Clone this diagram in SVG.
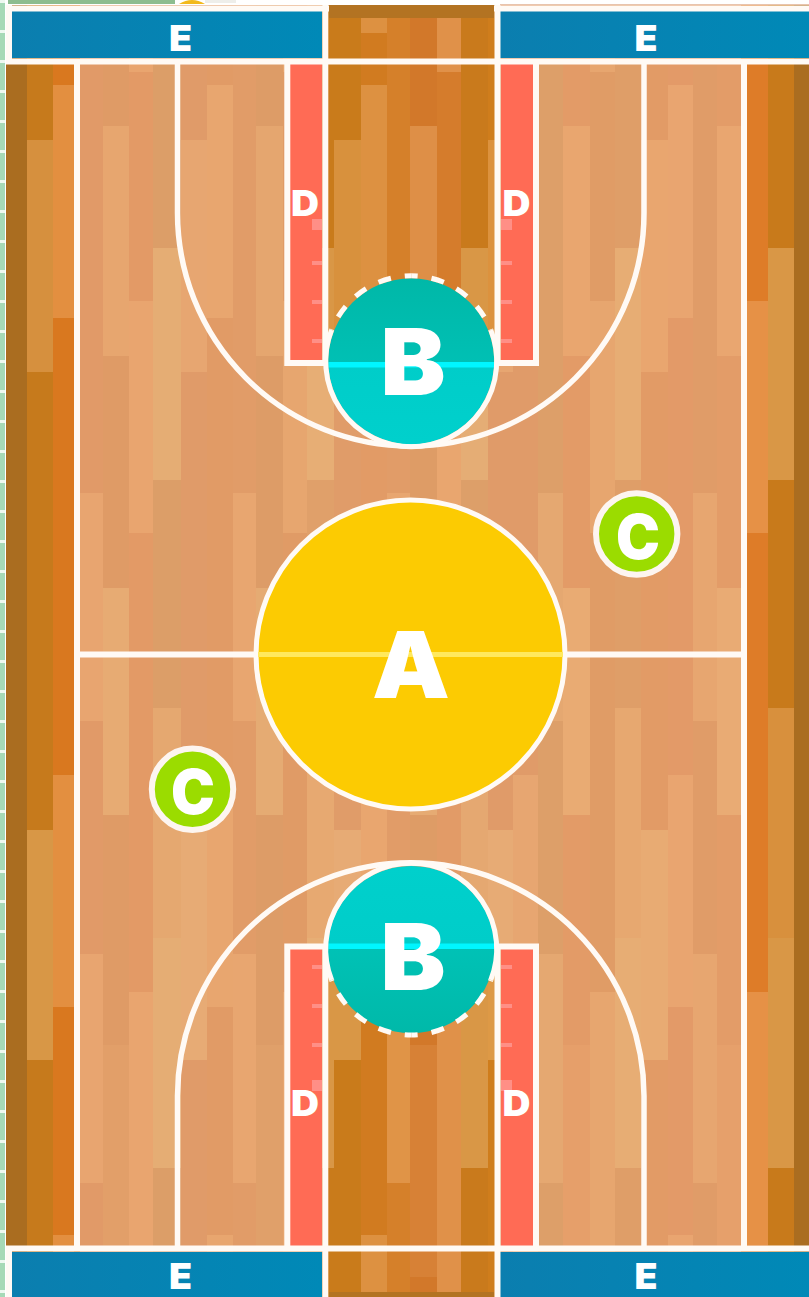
<svg xmlns="http://www.w3.org/2000/svg" width="809" height="1297" viewBox="0 0 809 1297">
<style>
.a{fill:#f5bb80;opacity:.34}
.h{fill:#f2c488;opacity:.4}
.s{fill:#f5bb80;opacity:.14}
.ln{fill:none;stroke:#fffaf5;stroke-width:6}
.arc{fill:none;stroke:#fffaf5;stroke-width:5.500}
.ring{fill:none;stroke:#fffaf5;stroke-width:5}
.dash{fill:none;stroke:#fffaf5;stroke-width:5;stroke-dasharray:13 14;stroke-dashoffset:6.5}
.key{fill:#ff6b55}
.tick{fill:#ff8f86}
.lab{font-family:Inter,"Liberation Sans",sans-serif;font-weight:900;fill:#fff;text-anchor:middle}
</style>
<defs>
<clipPath id="strip"><rect x="322" y="5" width="178" height="358"/><rect x="322" y="946" width="178" height="351"/></clipPath>
<linearGradient id="eg" x1="0" x2="1" y1="0" y2="0"><stop offset="0" stop-color="#0b7eaf"/><stop offset="1" stop-color="#0089b7"/></linearGradient>
<linearGradient id="bt" x1="0" x2="0" y1="0" y2="1"><stop offset="0" stop-color="#00b8a8"/><stop offset=".51" stop-color="#00c0b4"/><stop offset=".51" stop-color="#00cdc9"/><stop offset="1" stop-color="#00d0cc"/></linearGradient>
<linearGradient id="bb" x1="0" x2="0" y1="0" y2="1"><stop offset="0" stop-color="#00d0cc"/><stop offset=".48" stop-color="#00cdc9"/><stop offset=".48" stop-color="#00c2b6"/><stop offset="1" stop-color="#00b9a9"/></linearGradient>
<g id="t0"><rect class="a" width="1" y="140" height="232"/><rect class="h" width="1" y="830" height="230"/></g>
<g id="t1"><rect class="a" width="1" y="18" height="15"/><rect class="a" width="1" y="85" height="233"/><rect class="a" width="1" y="775" height="232"/><rect class="a" width="1" y="1235" height="57"/></g>
<g id="t2"><rect class="a" width="1" y="493" height="228"/><rect class="a" width="1" y="954" height="229"/></g>
<g id="t3"><rect class="a" width="1" y="126" height="230"/><rect class="h" width="1" y="588" height="227"/><rect class="s" width="1" y="1045" height="232"/></g>
<g id="t4b"><rect class="a" width="1" y="301" height="232"/><rect class="a" width="1" y="992" height="232"/></g>
<g id="t4"><use href="#t4b"/><rect class="a" width="1" y="18" height="54"/><rect class="a" width="1" y="1224" height="68"/></g>
<g id="t5"><rect class="h" width="1" y="248" height="232"/><rect class="a" width="1" y="708" height="230"/><rect class="h" width="1" y="938" height="230"/></g>
</defs>
<rect width="809" height="1297" fill="#fff"/>
<g id="page-edge">
<rect x="0" y="0" width="5" height="1297" fill="#a6d9b6"/>
<path d="M2.500 0V1297" fill="none" stroke="#eef8f0" stroke-width="5" stroke-dasharray="3 27"/>
<rect x="8" y="0" width="167" height="4" fill="#8dbd8f"/>
<path d="M179 4Q192-4 205 4Z" fill="#f2b91b"/>
<rect x="205" y="0" width="31" height="3" fill="#eeeeea"/>
<rect x="500" y="4" width="309" height="1.500" fill="#e8c4ae"/>
</g>
<g id="floor-base">
<rect x="6" y="5" width="21" height="1292" fill="#aa6d20"/>
<rect x="27" y="5" width="26" height="1292" fill="#c67a1c"/>
<rect x="53" y="5" width="27" height="1292" fill="#d9781f"/>
<rect x="80" y="5" width="23" height="1292" fill="#e19a68"/>
<rect x="103" y="5" width="26" height="1292" fill="#df9b66"/>
<rect x="129" y="5" width="24" height="1292" fill="#e39a66"/>
<rect x="153" y="5" width="28" height="1292" fill="#dc9e68"/>
<rect x="181" y="5" width="26" height="1292" fill="#e09b69"/>
<rect x="207" y="5" width="26" height="1292" fill="#e19b66"/>
<rect x="233" y="5" width="23" height="1292" fill="#e19c68"/>
<rect x="256" y="5" width="27" height="1292" fill="#dd9c67"/>
<rect x="283" y="5" width="24" height="1292" fill="#e09b66"/>
<rect x="307" y="5" width="27" height="1292" fill="#e0a06a"/>
<rect x="334" y="5" width="27" height="1292" fill="#e09c69"/>
<rect x="361" y="5" width="26" height="1292" fill="#e29b66"/>
<rect x="387" y="5" width="23" height="1292" fill="#e19c68"/>
<rect x="410" y="5" width="27" height="1292" fill="#de9c66"/>
<rect x="437" y="5" width="24" height="1292" fill="#e29b67"/>
<rect x="461" y="5" width="27" height="1292" fill="#dd9f69"/>
<rect x="488" y="5" width="50" height="1292" fill="#e09b69"/>
<rect x="538" y="5" width="25" height="1292" fill="#dd9f69"/>
<rect x="563" y="5" width="27" height="1292" fill="#e39b67"/>
<rect x="590" y="5" width="25" height="1292" fill="#e09c66"/>
<rect x="615" y="5" width="26" height="1292" fill="#df9e68"/>
<rect x="641" y="5" width="27" height="1292" fill="#e29b66"/>
<rect x="668" y="5" width="25" height="1292" fill="#e39a68"/>
<rect x="693" y="5" width="24" height="1292" fill="#e09c68"/>
<rect x="717" y="5" width="24" height="1292" fill="#e39c68"/>
<rect x="741" y="5" width="27" height="1292" fill="#de7c28"/>
<rect x="768" y="5" width="26" height="1292" fill="#c87a1b"/>
<rect x="794" y="5" width="15" height="1292" fill="#aa6d20"/>
<g clip-path="url(#strip)">
<rect x="322" y="5" width="39" height="1292" fill="#c97b1b"/>
<rect x="361" y="5" width="26" height="1292" fill="#d17b20"/>
<rect x="387" y="5" width="23" height="1292" fill="#d5802a"/>
<rect x="410" y="5" width="27" height="1292" fill="#d2782a"/>
<rect x="437" y="5" width="24" height="1292" fill="#d57c2c"/>
<rect x="461" y="5" width="27" height="1292" fill="#c97a1c"/>
<rect x="488" y="5" width="12" height="1292" fill="#cf7d1c"/>
</g>
</g>
<g id="floor-planks">
<use href="#t0" transform="translate(27) scale(26,1)"/>
<use href="#t1" transform="translate(53) scale(21,1)"/>
<use href="#t2" transform="translate(80) scale(23,1)"/>
<use href="#t3" transform="translate(103) scale(26,1)"/>
<use href="#t4" transform="translate(129) scale(24,1)"/>
<use href="#t5" transform="translate(153) scale(28,1)"/>
<use href="#t0" transform="translate(181) scale(26,1)"/>
<use href="#t1" transform="translate(207) scale(26,1)"/>
<use href="#t2" transform="translate(233) scale(23,1)"/>
<use href="#t3" transform="translate(256) scale(27,1)"/>
<use href="#t4" transform="translate(283) scale(24,1)"/>
<use href="#t5" transform="translate(307) scale(27,1)"/>
<use href="#t0" transform="translate(334) scale(27,1)"/>
<use href="#t1" transform="translate(361) scale(26,1)"/>
<use href="#t2" transform="translate(387) scale(23,1)"/>
<use href="#t3" transform="translate(410) scale(27,1)"/>
<use href="#t4" transform="translate(437) scale(24,1)"/>
<use href="#t5" transform="translate(461) scale(27,1)"/>
<use href="#t0" transform="translate(488) scale(25,1)"/>
<use href="#t1" transform="translate(513) scale(25,1)"/>
<use href="#t2" transform="translate(538) scale(25,1)"/>
<use href="#t3" transform="translate(563) scale(27,1)"/>
<use href="#t4" transform="translate(590) scale(25,1)"/>
<use href="#t5" transform="translate(615) scale(26,1)"/>
<use href="#t0" transform="translate(641) scale(27,1)"/>
<use href="#t1" transform="translate(668) scale(25,1)"/>
<use href="#t2" transform="translate(693) scale(24,1)"/>
<use href="#t3" transform="translate(717) scale(24,1)"/>
<use href="#t4b" transform="translate(741) scale(27,1)"/>
<rect class="a" x="741" y="1224" width="27" height="21"/>
<use href="#t5" transform="translate(768) scale(26,1)"/>
<rect x="329" y="5" width="165" height="13" fill="#b37322"/>
<rect x="329" y="1292" width="165" height="5" fill="#b37322"/>
</g>
<g id="keys">
<rect class="key" x="290" y="62" width="32" height="298"/>
<rect class="key" x="501" y="62" width="32" height="298"/>
<rect class="key" x="290" y="949" width="32" height="298"/>
<rect class="key" x="501" y="949" width="32" height="298"/>
<rect class="tick" x="312" y="219" width="10" height="11"/><rect class="tick" x="312" y="261" width="10" height="4"/><rect class="tick" x="312" y="300" width="10" height="4"/><rect class="tick" x="312" y="339" width="10" height="4"/>
<rect class="tick" x="501" y="219" width="11" height="11"/><rect class="tick" x="501" y="261" width="11" height="4"/><rect class="tick" x="501" y="300" width="11" height="4"/><rect class="tick" x="501" y="339" width="11" height="4"/>
<rect class="tick" x="312" y="965" width="10" height="4"/><rect class="tick" x="312" y="1004" width="10" height="4"/><rect class="tick" x="312" y="1043" width="10" height="4"/><rect class="tick" x="312" y="1080" width="10" height="11"/>
<rect class="tick" x="501" y="965" width="11" height="4"/><rect class="tick" x="501" y="1004" width="11" height="4"/><rect class="tick" x="501" y="1043" width="11" height="4"/><rect class="tick" x="501" y="1080" width="11" height="11"/>
</g>
<g id="zones-e">
<rect x="12" y="11" width="310" height="47" fill="url(#eg)"/>
<rect x="500" y="11" width="309" height="47" fill="url(#eg)"/>
<rect x="12" y="1252" width="310" height="45" fill="url(#eg)"/>
<rect x="500" y="1252" width="309" height="45" fill="url(#eg)"/>
</g>
<g id="court-lines">
<path class="ln" d="M6 8.500H329M494 8.500H809"/>
<path class="ln" d="M9 5V61M9 1248V1297"/>
<path class="ln" d="M6 61.500H809M6 1248.500H809"/>
<path class="ln" d="M77 61V1248M744 61V1248"/>
<path class="ln" d="M77 654.500H744"/>
<path class="ln" d="M325.300 5V363M497.500 5V363M325.300 946.500V1297M497.500 946.500V1297"/>
<path class="ln" d="M287.300 61V363H325M536 61V363H497"/>
<path class="ln" d="M287.300 1248V946.500H325M536 1248V946.500H497"/>
<path class="arc" d="M177.500 61V213A233.250 233.250 0 0 0 644 213V61"/>
<path class="arc" d="M177.500 1248V1096A233.250 233.250 0 0 1 644 1096V1248"/>
</g>
<g id="node-a">
<circle cx="410.500" cy="654.500" r="154.500" fill="#fccb02" stroke="#fffaf5" stroke-width="5"/>
<rect x="258" y="652" width="305" height="5" fill="#ffe95e"/>
<text class="lab" x="411" y="698" font-size="92" textLength="78" lengthAdjust="spacingAndGlyphs">A</text>
</g>
<g id="node-b-top">
<circle cx="411.200" cy="361.300" r="83" fill="url(#bt)"/>
<rect x="328.500" y="362" width="165.500" height="5.500" fill="#00f6ff"/>
<path class="ring" d="M331.600 330A85.500 85.500 0 1 0 490.800 330"/>
<path class="dash" d="M411.200 275.800A85.500 85.500 0 0 1 490.800 330"/>
<path class="dash" d="M411.200 275.800A85.500 85.500 0 0 0 331.600 330"/>
<text class="lab" x="413" y="395" font-size="92" textLength="65" lengthAdjust="spacingAndGlyphs">B</text>
</g>
<g id="node-b-bottom">
<circle cx="411.200" cy="949.500" r="83.500" fill="url(#bb)"/>
<rect x="328.500" y="943.500" width="165.500" height="5.500" fill="#00f6ff"/>
<path class="ring" d="M331.600 980A85.500 85.500 0 1 1 490.800 980"/>
<path class="dash" d="M411.200 1035A85.500 85.500 0 0 0 490.800 980"/>
<path class="dash" d="M411.200 1035A85.500 85.500 0 0 1 331.600 980"/>
<text class="lab" x="413" y="990" font-size="92" textLength="65" lengthAdjust="spacingAndGlyphs">B</text>
</g>
<g id="node-c-right">
<circle cx="636.700" cy="534" r="40.700" fill="#9bdc00" stroke="#fdf5f0" stroke-width="6"/>
<text class="lab" x="638" y="558.500" font-size="62" textLength="44" lengthAdjust="spacingAndGlyphs">C</text>
</g>
<g id="node-c-left">
<circle cx="192.500" cy="789.300" r="40.700" fill="#9bdc00" stroke="#fdf5f0" stroke-width="6"/>
<text class="lab" x="193" y="813.500" font-size="62" textLength="44" lengthAdjust="spacingAndGlyphs">C</text>
</g>
<g id="labels-d">
<text class="lab" x="305" y="216" font-size="35" textLength="28" lengthAdjust="spacingAndGlyphs">D</text>
<text class="lab" x="516.500" y="216" font-size="35" textLength="28" lengthAdjust="spacingAndGlyphs">D</text>
<text class="lab" x="305" y="1116" font-size="35" textLength="28" lengthAdjust="spacingAndGlyphs">D</text>
<text class="lab" x="516.500" y="1116" font-size="35" textLength="28" lengthAdjust="spacingAndGlyphs">D</text>
</g>
<g id="labels-e">
<text class="lab" x="180.500" y="51" font-size="36" textLength="23" lengthAdjust="spacingAndGlyphs">E</text>
<text class="lab" x="646" y="51" font-size="36" textLength="23" lengthAdjust="spacingAndGlyphs">E</text>
<text class="lab" x="180.500" y="1289" font-size="36" textLength="23" lengthAdjust="spacingAndGlyphs">E</text>
<text class="lab" x="646" y="1289" font-size="36" textLength="23" lengthAdjust="spacingAndGlyphs">E</text>
</g>
</svg>
